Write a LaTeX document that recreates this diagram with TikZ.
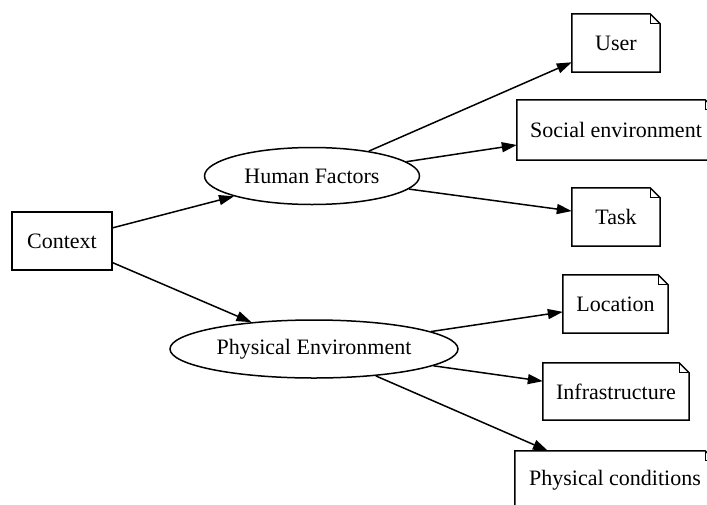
\documentclass[tikz,border=0pt]{standalone}
\usepackage{fontspec}
\setmainfont{Liberation Serif}
\usetikzlibrary{shapes.geometric,arrows.meta}
\begin{document}
\begin{tikzpicture}[x=1pt,y=-1pt,
  every node/.style={font=\fontsize{22}{26}\selectfont, inner sep=2pt},
  base/.style={line width=1.5pt, draw=black},
  boxnode/.style={base, rectangle, minimum height=58pt},
  ovalnode/.style={base, ellipse, minimum height=57pt},
  notebox/.style={rectangle, minimum height=58pt, minimum width=88pt,
    append after command={
      \pgfextra{\draw[base, line join=miter]
        (\tikzlastnode.north west) -- ([xshift=-10pt]\tikzlastnode.north east)
        -- ([yshift=-10pt]\tikzlastnode.north east) -- (\tikzlastnode.south east)
        -- (\tikzlastnode.south west) -- cycle;
      \draw[base, line width=1.1pt]
        ([xshift=-10pt]\tikzlastnode.north east) -- ([xshift=-10pt,yshift=-10pt]\tikzlastnode.north east)
        -- ([yshift=-10pt]\tikzlastnode.north east);}}},
  edge/.style={base, -{Triangle[length=15pt,width=10pt]}}
]
\clip (0,0) rectangle (707,504);

% root and the two groups
\node[boxnode, minimum width=100pt] (ctx) at (62,241) {Context};
\node[ovalnode, minimum width=215pt] (hf) at (312,176) {Human Factors};
\node[ovalnode, minimum width=288pt, minimum height=58pt] (pe) at (314,349) {Physical Environment};

% leaves
\node[notebox] (user) at (616,43) {User};
\node[notebox, minimum width=198pt, minimum height=60pt] (soc) at (616,130) {Social environment};
\node[notebox] (task) at (616,217) {Task};
\node[notebox, minimum width=105pt] (loc) at (615.5,304) {Location};
\node[notebox, minimum width=146pt, minimum height=57pt] (infra) at (616,391.5) {Infrastructure};
\node[notebox, minimum width=200pt] (cond) at (615,480) {Physical conditions};

% connectors
\draw[edge] (ctx) -- (hf);
\draw[edge] (ctx) -- (pe);
\draw[edge] (hf) -- (user);
\draw[edge] (hf) -- (soc);
\draw[edge] (hf) -- (task);
\draw[edge] (pe) -- (loc);
\draw[edge] (pe) -- (infra);
\draw[edge] (pe) -- (cond);
\end{tikzpicture}
\end{document}
